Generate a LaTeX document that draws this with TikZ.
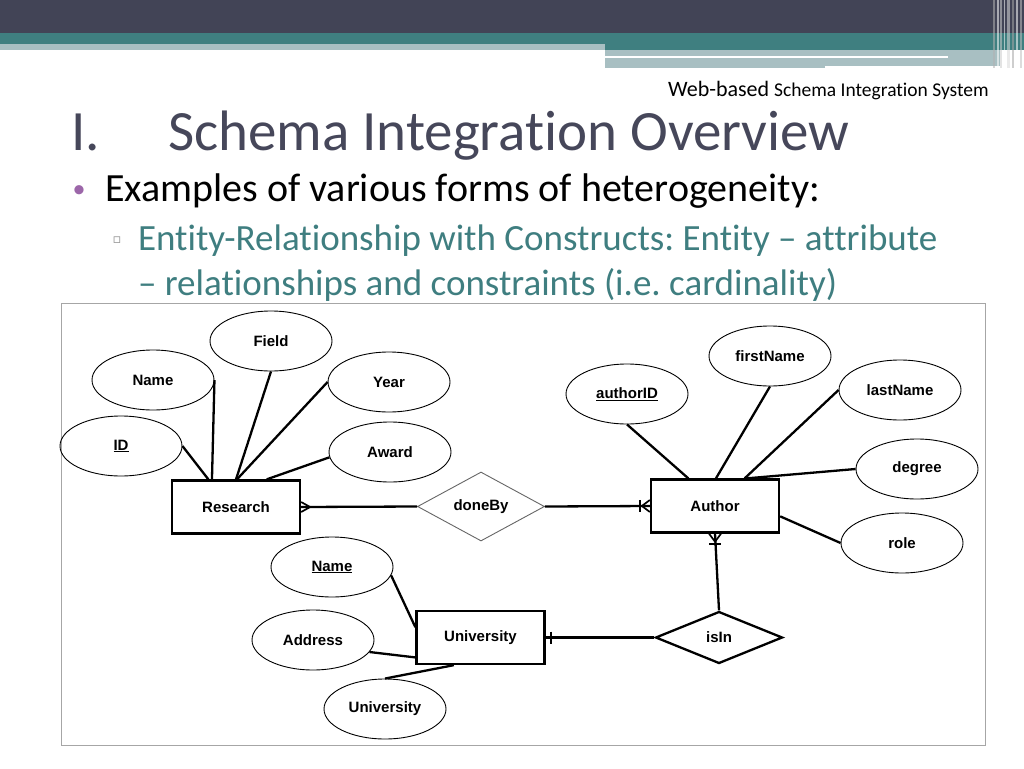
\documentclass[tikz,border=0pt]{standalone}
\usepackage{fontspec}
\setmainfont{Carlito}[Ligatures=NoCommon]
\newfontfamily\erfont{Liberation Sans}
\newfontfamily\symfont{DejaVu Sans}
\usetikzlibrary{shapes.geometric,calc}

\definecolor{slatebar}{HTML}{424456}
\definecolor{tealbar}{HTML}{3F7F80}
\definecolor{tealpale}{HTML}{A8BFC2}
\definecolor{titlecol}{HTML}{46475A}
\definecolor{subcol}{HTML}{3F7E80}
\definecolor{dotcol}{HTML}{9C66A9}

\frenchspacing
\begin{document}
\begin{tikzpicture}[x=1pt,y=-1pt,line width=2pt,
  erfont/.style={font=\erfont\bfseries\fontsize{15}{17}\selectfont},
  attr/.style={ellipse,draw,line width=0.9pt,minimum width=122pt,minimum height=60pt,inner sep=0pt,erfont},
  entity/.style={rectangle,draw,line width=2.3pt,minimum width=128pt,minimum height=53pt,inner sep=0pt,erfont},
  rel/.style={diamond,draw,minimum width=127pt,minimum height=52pt,inner sep=0pt,erfont},
  link/.style={line width=2.3pt},
  foot/.style={line width=1.7pt}]
  \useasboundingbox (0,0) rectangle (1024,768);

  % slide header bars
  \fill[slatebar] (0,0) rectangle (1024,33);
  \fill[tealbar] (0,33) rectangle (1024,44);
  \fill[tealpale] (0,44) rectangle (605,50);
  \fill[tealbar] (605,44) rectangle (1024,50);
  \fill[tealpale] (605,50) rectangle (1000,66);
  \fill[tealpale] (605,66) rectangle (825,68);
  \fill[white] (605,56) rectangle (948,58);
  \foreach \x/\w/\c in {993/2/black!30,997/1.5/white,1000/2/black!20,1004/1/white,
                        1007/3/black!15,1012/1.5/black!35,1016/2/white,1020/1.5/black!25} {
    \fill[\c,opacity=0.55] (\x,0) rectangle ++(\w,68);
  }

  % slide texts
  \node[anchor=base west,inner sep=0pt,font=\fontsize{22}{26}\selectfont] (hdr) at (667,96)
    {Web-based {\fontsize{19.5}{22}\selectfont Schema Integration System}};
  \node[anchor=base west,inner sep=0pt,text=titlecol,font=\fontsize{57}{60}\selectfont] (num) at (70,150) {I.};
  \node[anchor=base west,inner sep=0pt,text=titlecol,font=\fontsize{57}{60}\selectfont] (title) at (167,150) {Schema Integration Overview};
  \node[anchor=base,inner sep=0pt,text=dotcol,font=\fontsize{26}{30}\selectfont] (dot) at (79,197) {•};
  \node[anchor=base west,inner sep=0pt,font=\fontsize{40}{44}\selectfont] (ex) at (104,201) {Examples of various forms of heterogeneity:};
  \node[anchor=base,inner sep=0pt,text=black!45,font=\symfont\fontsize{13}{15}\selectfont] (sq) at (117,243) {▫};
  \node[anchor=base west,inner sep=0pt,text=subcol,font=\fontsize{37}{40}\selectfont] (line1) at (137,250)
    {Entity-Relationship with Constructs: Entity – attribute};
  \node[anchor=base west,inner sep=0pt,text=subcol,font=\fontsize{37}{40}\selectfont] (line2) at (137,295)
    {– relationships and constraints (i.e. cardinality)};

  % diagram frame
  \draw[black!35,line width=1pt,fill=white] (61,303) rectangle (985,745);

  % entities and relationships
  \node[entity] (research) at (236,507) {Research};
  \node[entity] (author) at (715,506) {Author};
  \node[entity] (univ) at (480.5,637.5) {University};
  \node[rel,draw=black!60,line width=0.9pt] (doneby) at (481,506.5) {doneBy};
  \node[rel,line width=2.3pt] (isin) at (719,637.5) {isIn};

  % attributes
  \foreach \nm/\x/\y/\txt in {field/271/341/Field, name/153/380/Name, year/389/382/Year,
                              id/121/446/\underline{ID}, award/390/452/Award,
                              authorid/627/394/\underline{authorID}, firstname/770/356/firstName,
                              lastname/900/390/lastName, degree/917/469/degree, role/902/543/role,
                              uname/332/567/\underline{Name}, address/313/640/Address,
                              uniattr/385/709/University} {
    \node[attr] (\nm) at (\x,\y) {\txt};
  }

  % attribute links
  \foreach \a/\b in {name.east/research.131, id.east/research.135, field.south/research.north,
                     year.west/research.88, award.185/research.42,
                     authorid.south/author.134, firstname.south/author.88, lastname.west/author.43,
                     degree.west/author.41, author.-9/role.west,
                     uname.-8/univ.171, address.-12/univ.197, uniattr.north/univ.226} {
    \draw[link] (\a) -- (\b);
  }

  % relationship links
  \draw[link] (research.east) -- (doneby.west);
  \draw[link] (doneby.east) -- (author.west);
  \draw[link] (author.south) -- (isin.north);
  \draw[link] (univ.east) -- (isin.west);

  % cardinality marks
  \draw[foot] ($(research.east)+(0,-5)$) -- ($(research.east)+(9,0)$) -- ($(research.east)+(0,5)$);
  \draw[foot] ($(author.west)+(0,-6)$) -- ($(author.west)+(-8,0)$) -- ($(author.west)+(0,6)$);
  \draw[foot] ($(author.west)+(-10,-6)$) -- ($(author.west)+(-10,6)$);
  \draw[foot] ($(author.south)+(-6,0)$) -- ($(author.south)+(0,8)$) -- ($(author.south)+(6,0)$);
  \draw[foot] ($(author.south)+(-6,10)$) -- ($(author.south)+(6,10)$);
  \draw[foot] ($(univ.east)+(5,-6)$) -- ($(univ.east)+(5,6)$);
\end{tikzpicture}
\end{document}
